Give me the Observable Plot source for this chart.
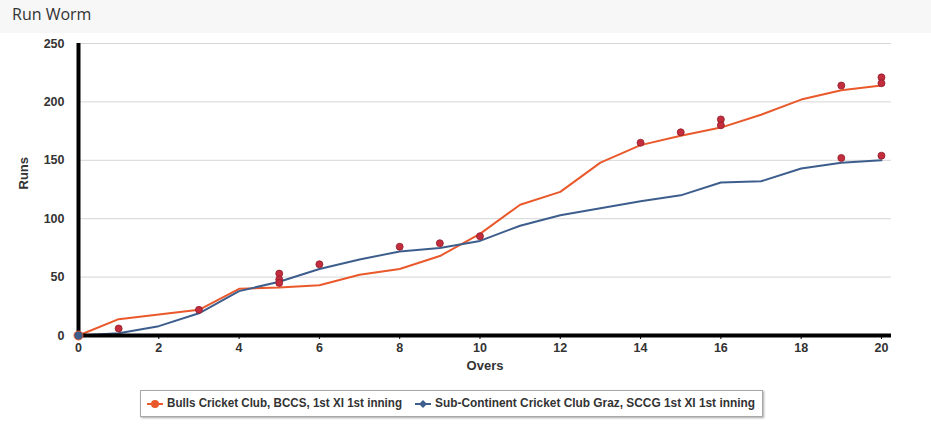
<!DOCTYPE html>
<html>
<head>
<meta charset="utf-8">
<script src="https://cdn.jsdelivr.net/npm/d3@7"></script>
<script src="https://cdn.jsdelivr.net/npm/@observablehq/plot@0.6"></script>
<style>
  html, body { margin: 0; padding: 0; background: #fff; width: 931px; height: 430px; overflow: hidden; }
  #title { position: absolute; left: 0; top: 0; width: 931px; height: 33px; background: #f7f7f7; }
  #title span { position: absolute; left: 12px; top: 4px; font-family: "Open Sans", "Noto Sans", sans-serif; font-size: 16px; color: #333; line-height: 20px; }
  #chart { position: absolute; left: 0; top: 33px; }
  #legend { position: absolute; left: 140px; top: 390px; width: 623px; height: 27px; border: 1px solid #a8a8a8; box-shadow: 1px 1px 2px rgba(0,0,0,0.35); background: #fff; box-sizing: border-box; }
  .item { position: absolute; top: 0; height: 25px; }
  .item svg { position: absolute; left: 0; top: 8px; }
  .item span { position: absolute; left: 20px; top: 5px; white-space: nowrap; transform-origin: 0 50%;
               font-family: "Liberation Sans", Arial, sans-serif; font-weight: bold; font-size: 12.5px; color: #333; line-height: 15px; }
</style>
</head>
<body>
<div id="title"><span>Run Worm</span></div>
<div id="chart"></div>
<div id="legend"></div>
<script>
const overs = [0,1,2,3,4,5,6,7,8,9,10,11,12,13,14,15,16,17,18,19,20];
const bullsRuns = [0,14,18,22,40,41,43,52,57,68,87,112,123,148,163,171,178,189,202,210,214];
const sccgRuns  = [0,2,8,19,38,46,57,65,72,75,81,94,103,109,115,120,131,132,143,148,150];
const wicketOvers = [1,3,5,5,5,6,8,9,10,14,15,16,16,19,20,20,19,20];
const wicketRuns  = [6,22,53,48,45,61,76,79,85,165,174,185,180,214,221,216,152,154];
const xTicks = [0,2,4,6,8,10,12,14,16,18,20];
const yTicks = [0,50,100,150,200,250];
const seriesNames = ["Bulls Cricket Club, BCCS, 1st XI 1st inning", "Sub-Continent Cricket Club Graz, SCCG 1st XI 1st inning"];
const seriesColors = ["#e9592b", "#3d5e8d"];

const bulls = overs.map((o, i) => ({over: o, runs: bullsRuns[i]}));
const sccg = overs.map((o, i) => ({over: o, runs: sccgRuns[i]}));
const wickets = wicketOvers.map((o, i) => ({over: o, runs: wicketRuns[i]}));

const chart = Plot.plot({
  width: 931,
  height: 350,
  marginLeft: 78,
  marginRight: 40,
  marginTop: 10,
  marginBottom: 48,
  x: {domain: [0, 20.25]},
  y: {domain: [0, 250]},
  style: {fontFamily: "Liberation Sans, Arial, sans-serif", fontSize: "12px", fontWeight: "bold", color: "#333", background: "transparent"},
  marks: [
    Plot.ruleY(yTicks, {stroke: "#d6d6d6", strokeWidth: 1}),
    Plot.axisY({ticks: yTicks, tickSize: 0, tickPadding: 14, label: null, fill: "#333", fontSize: 12.5, fontWeight: "bold"}),
    Plot.axisX({ticks: xTicks, tickSize: 4, tickPadding: 4, label: null, fill: "#333", fontSize: 12.5, fontWeight: "bold", stroke: "#000"}),
    Plot.text(["Runs"], {frameAnchor: "left", dx: -55, rotate: -90, fontSize: 13, fontWeight: "bold", fill: "#333"}),
    Plot.text(["Overs"], {frameAnchor: "bottom", dy: 34, fontSize: 13, fontWeight: "bold", fill: "#333"}),
    Plot.line(bulls, {x: "over", y: "runs", stroke: seriesColors[0], strokeWidth: 2}),
    Plot.line(sccg, {x: "over", y: "runs", stroke: seriesColors[1], strokeWidth: 2}),
    Plot.ruleX([0], {stroke: "#000", strokeWidth: 4}),
    Plot.ruleY([0], {stroke: "#000", strokeWidth: 4}),
    Plot.dot(wickets, {x: "over", y: "runs", r: 3.5, fill: "#c42d3d", stroke: "#8f1d2a", strokeWidth: 0.8}),
    Plot.dot([sccg[0]], {x: "over", y: "runs", r: 4.5, fill: seriesColors[1], stroke: seriesColors[0], strokeWidth: 1})
  ]
});
document.getElementById("chart").appendChild(chart);

const legend = document.getElementById("legend");
const itemLeft = [6, 274];
const textWidth = [235, 320];
seriesNames.forEach((name, i) => {
  const item = document.createElement("div");
  item.className = "item";
  item.style.left = itemLeft[i] + "px";
  const marker = i === 0
    ? `<svg width="16" height="10"><line x1="0" y1="5" x2="16" y2="5" stroke="${seriesColors[i]}" stroke-width="2"/><circle cx="8" cy="5" r="4" fill="${seriesColors[i]}"/></svg>`
    : `<svg width="16" height="10"><line x1="0" y1="5" x2="16" y2="5" stroke="${seriesColors[i]}" stroke-width="2"/><path d="M8 1 L12 5 L8 9 L4 5 Z" fill="${seriesColors[i]}"/></svg>`;
  item.innerHTML = marker + `<span>${name}</span>`;
  legend.appendChild(item);
  const span = item.querySelector("span");
  const w = span.getBoundingClientRect().width;
  span.style.transform = `scaleX(${textWidth[i] / w})`;
});
</script>
</body>
</html>
